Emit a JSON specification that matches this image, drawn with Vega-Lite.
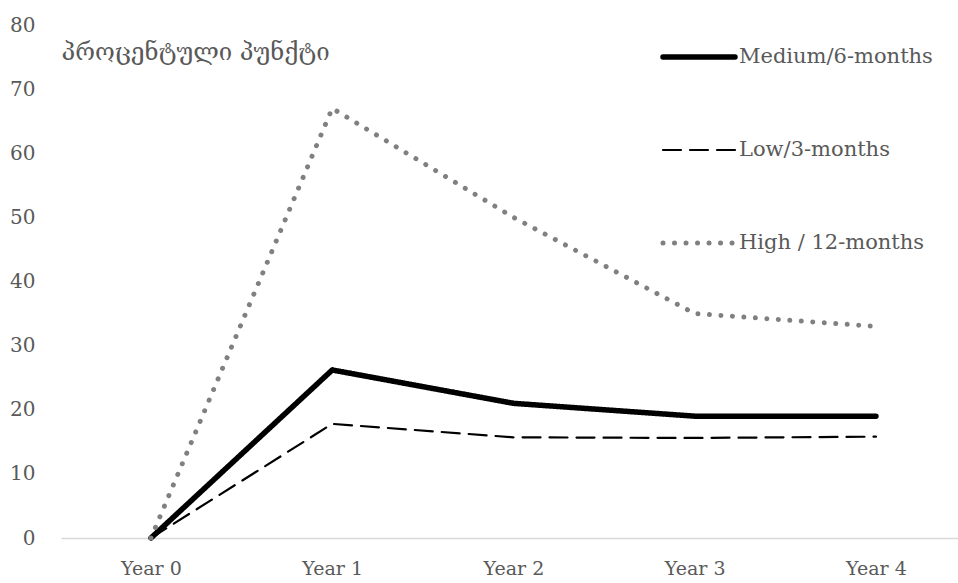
{
  "$schema": "https://vega.github.io/schema/vega-lite/v6.json",
  "width": 897,
  "height": 513,
  "autosize": {"type": "none"},
  "padding": {"left": 61, "top": 25, "right": 0, "bottom": 45},
  "background": "white",
  "config": {
    "view": {"stroke": null},
    "font": "DejaVu Serif"
  },
  "data": {
    "values": [
      {"year": "Year 0", "series": "Medium/6-months", "value": 0},
      {"year": "Year 1", "series": "Medium/6-months", "value": 26.2},
      {"year": "Year 2", "series": "Medium/6-months", "value": 21},
      {"year": "Year 3", "series": "Medium/6-months", "value": 19},
      {"year": "Year 4", "series": "Medium/6-months", "value": 19},
      {"year": "Year 0", "series": "Low/3-months", "value": 0},
      {"year": "Year 1", "series": "Low/3-months", "value": 17.8},
      {"year": "Year 2", "series": "Low/3-months", "value": 15.7},
      {"year": "Year 3", "series": "Low/3-months", "value": 15.6},
      {"year": "Year 4", "series": "Low/3-months", "value": 15.8},
      {"year": "Year 0", "series": "High / 12-months", "value": 0},
      {"year": "Year 1", "series": "High / 12-months", "value": 67},
      {"year": "Year 2", "series": "High / 12-months", "value": 50},
      {"year": "Year 3", "series": "High / 12-months", "value": 35},
      {"year": "Year 4", "series": "High / 12-months", "value": 33}
    ]
  },
  "mark": {"type": "line", "strokeCap": "round", "strokeJoin": "round"},
  "encoding": {
    "x": {
      "field": "year",
      "type": "ordinal",
      "sort": ["Year 0", "Year 1", "Year 2", "Year 3", "Year 4"],
      "scale": {"type": "point", "padding": 0.4745, "align": 0.523},
      "axis": {
        "title": null,
        "labelAngle": 0,
        "ticks": false,
        "tickSize": 0,
        "grid": false,
        "domainColor": "#d9d9d9",
        "domainWidth": 1.5,
        "labelFont": "DejaVu Serif",
        "labelFontSize": 19,
        "labelColor": "#595959",
        "labelPadding": 21
      }
    },
    "y": {
      "field": "value",
      "type": "quantitative",
      "scale": {"domain": [0, 80], "nice": false},
      "axis": {
        "values": [0, 10, 20, 30, 40, 50, 60, 70, 80],
        "domain": false,
        "ticks": false,
        "tickSize": 0,
        "grid": false,
        "labelFont": "DejaVu Serif",
        "labelFontSize": 20,
        "labelColor": "#595959",
        "labelPadding": 26,
        "title": "პროცენტული პუნქტი",
        "titleAngle": 0,
        "titleAlign": "left",
        "titleBaseline": "middle",
        "titleX": 0,
        "titleY": 27,
        "titleFont": "DejaVu Serif",
        "titleFontSize": 24,
        "titleFontWeight": "normal",
        "titleColor": "#595959"
      }
    },
    "color": {
      "field": "series",
      "type": "nominal",
      "scale": {
        "domain": ["Medium/6-months", "Low/3-months", "High / 12-months"],
        "range": ["#000000", "#000000", "#808080"]
      },
      "legend": {
        "title": null,
        "orient": "none",
        "legendX": 599,
        "legendY": 22,
        "symbolType": "stroke",
        "symbolSize": 5184,
        "clipHeight": 20,
        "rowPadding": 72,
        "labelOffset": 1,
        "labelFont": "DejaVu Serif",
        "labelFontSize": 21,
        "labelColor": "#595959",
        "labelLimit": 400,
        "encode": {"symbols": {"update": {"strokeCap": {"value": "round"}}}}
      }
    },
    "strokeDash": {
      "field": "series",
      "type": "nominal",
      "scale": {
        "domain": ["Medium/6-months", "Low/3-months", "High / 12-months"],
        "range": [[1, 0], [18, 9], [0.01, 11.5]]
      }
    },
    "strokeWidth": {
      "field": "series",
      "type": "nominal",
      "scale": {
        "type": "ordinal",
        "domain": ["Medium/6-months", "Low/3-months", "High / 12-months"],
        "range": [5.5, 2.2, 5]
      }
    }
  }
}
